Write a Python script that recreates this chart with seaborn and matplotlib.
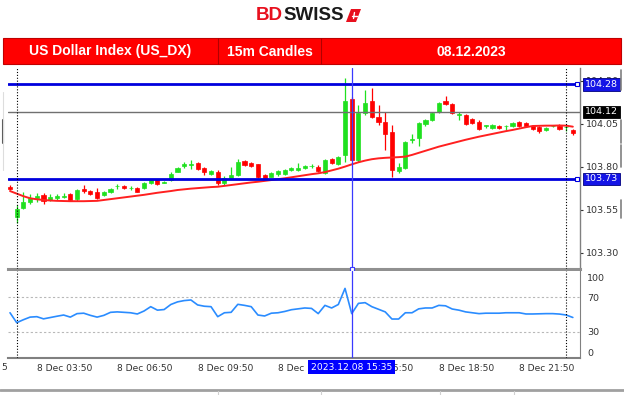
import numpy as np
import pandas as pd
import matplotlib
matplotlib.use("Agg")
import matplotlib.pyplot as plt
import matplotlib.transforms as mtransforms
from matplotlib.patches import Rectangle, Polygon
from matplotlib.lines import Line2D
import seaborn as sns

# ---------------- data ----------------
opens = [103.685, 103.511, 103.563, 103.594, 103.618, 103.637, 103.608, 103.618, 103.625, 103.641,
         103.612, 103.672, 103.660, 103.654, 103.637, 103.656, 103.688, 103.691, 103.678, 103.680,
         103.676, 103.705, 103.722, 103.707, 103.724, 103.773, 103.807, 103.814, 103.825, 103.796,
         103.759, 103.773, 103.705, 103.738, 103.753, 103.835, 103.825, 103.817, 103.753, 103.744,
         103.757, 103.757, 103.782, 103.782, 103.792, 103.805, 103.802, 103.763, 103.844, 103.815,
         103.870, 104.195, 103.840, 104.112, 104.183, 104.092, 104.059, 104.005, 103.777, 103.796,
         103.957, 103.966, 104.048, 104.073, 104.121, 104.183, 104.164, 104.104, 104.102, 104.077,
         104.063, 104.040, 104.025, 104.040, 104.036, 104.040, 104.059, 104.054, 104.038, 104.034,
         104.015, 104.036, 104.040, 104.032, 104.015]
highs = [103.695, 103.579, 103.656, 103.641, 103.647, 103.647, 103.640, 103.645, 103.647, 103.650,
         103.670, 103.695, 103.668, 103.680, 103.662, 103.678, 103.699, 103.695, 103.690, 103.685,
         103.712, 103.732, 103.728, 103.720, 103.770, 103.800, 103.831, 103.840, 103.830, 103.800,
         103.780, 103.780, 103.745, 103.802, 103.846, 103.840, 103.830, 103.820, 103.760, 103.770,
         103.780, 103.790, 103.800, 103.821, 103.812, 103.815, 103.810, 103.845, 103.850, 103.865,
         104.319, 104.209, 104.160, 104.247, 104.261, 104.160, 104.121, 104.044, 103.821, 103.950,
         103.990, 104.063, 104.080, 104.120, 104.180, 104.214, 104.170, 104.121, 104.108, 104.082,
         104.070, 104.044, 104.050, 104.045, 104.044, 104.060, 104.065, 104.060, 104.045, 104.040,
         104.035, 104.045, 104.048, 104.036, 104.020]
lows = [103.665, 103.472, 103.556, 103.583, 103.598, 103.583, 103.600, 103.610, 103.620, 103.600,
        103.605, 103.647, 103.635, 103.615, 103.632, 103.650, 103.672, 103.672, 103.666, 103.652,
        103.672, 103.700, 103.698, 103.705, 103.720, 103.770, 103.792, 103.788, 103.780, 103.753,
        103.755, 103.698, 103.698, 103.735, 103.750, 103.805, 103.800, 103.735, 103.728, 103.740,
        103.750, 103.752, 103.778, 103.778, 103.788, 103.795, 103.770, 103.758, 103.820, 103.810,
        103.831, 103.835, 103.830, 104.100, 104.085, 104.044, 103.899, 103.744, 103.763, 103.790,
        103.937, 103.924, 104.040, 104.068, 104.115, 104.160, 104.105, 104.073, 104.042, 104.050,
        104.015, 104.025, 104.020, 104.020, 104.015, 104.035, 104.035, 104.035, 104.015, 104.000,
        104.010, 104.030, 104.015, 104.010, 103.985]
closes = [103.672, 103.556, 103.598, 103.621, 103.631, 103.602, 103.623, 103.633, 103.630, 103.608,
          103.664, 103.660, 103.641, 103.621, 103.656, 103.672, 103.690, 103.676, 103.680, 103.656,
          103.705, 103.726, 103.703, 103.710, 103.757, 103.796, 103.815, 103.816, 103.786, 103.769,
          103.777, 103.705, 103.738, 103.753, 103.831, 103.811, 103.806, 103.744, 103.734, 103.763,
          103.777, 103.782, 103.796, 103.796, 103.806, 103.807, 103.777, 103.840, 103.825, 103.860,
          104.183, 103.840, 104.112, 104.170, 104.092, 104.059, 103.990, 103.782, 103.802, 103.943,
          103.963, 104.054, 104.073, 104.112, 104.170, 104.164, 104.112, 104.106, 104.048, 104.054,
          104.021, 104.042, 104.044, 104.025, 104.038, 104.054, 104.040, 104.040, 104.021, 104.009,
          104.028, 104.038, 104.021, 104.034, 103.995]
ma = [103.660, 103.645, 103.630, 103.618, 103.612, 103.608, 103.605, 103.603, 103.602, 103.601,
      103.601, 103.601, 103.602, 103.603, 103.608, 103.613, 103.618, 103.623, 103.628, 103.633,
      103.638, 103.644, 103.650, 103.655, 103.660, 103.666, 103.670, 103.674, 103.677, 103.680,
      103.683, 103.685, 103.690, 103.695, 103.700, 103.705, 103.710, 103.714, 103.719, 103.724,
      103.729, 103.734, 103.740, 103.746, 103.752, 103.758, 103.763, 103.770, 103.780, 103.790,
      103.802, 103.815, 103.827, 103.837, 103.845, 103.850, 103.853, 103.855, 103.857, 103.860,
      103.870, 103.882, 103.894, 103.906, 103.918, 103.928, 103.938, 103.948, 103.958, 103.967,
      103.976, 103.984, 103.992, 104.000, 104.008, 104.015, 104.023, 104.031, 104.038, 104.039,
      104.040, 104.040, 104.041, 104.040, 104.034]
rsi = [52.0, 40.6, 44.0, 47.0, 47.5, 45.0, 46.5, 48.0, 49.4, 47.0,
       51.0, 51.5, 49.0, 47.0, 49.0, 52.5, 53.0, 52.5, 52.0, 50.6,
       54.0, 59.0, 55.0, 55.7, 61.5, 64.5, 66.0, 66.7, 61.0, 59.5,
       59.0, 47.5, 52.0, 52.5, 61.7, 60.5, 59.0, 49.4, 48.3, 51.5,
       52.0, 53.5, 55.5, 56.5, 57.5, 57.0, 51.0, 60.5, 57.5, 61.5,
       80.0, 51.0, 62.8, 63.6, 59.0, 56.0, 53.0, 44.8, 44.8, 52.0,
       52.0, 56.5, 57.5, 57.5, 60.5, 60.0, 56.3, 55.0, 53.0, 52.0,
       51.0, 51.5, 51.5, 51.5, 52.0, 52.0, 52.0, 50.6, 50.6, 50.8,
       51.0, 51.0, 50.5, 49.4, 46.6]

level_lines = [104.28, 103.73]
ref_line = 104.12
price_ticks = [103.30, 103.55, 103.80, 104.05, 104.30]
time_tick_idx = [4, 16, 28, 40, 52, 64, 76]
time_tick_labels = ["8 Dec 03:50", "8 Dec 06:50", "8 Dec 09:50", "8 Dec 12:50",
                    "8 Dec 15:50", "8 Dec 18:50", "8 Dec 21:50"]
cursor_idx = 51
cursor_label = "2023.12.08 15:35"
separator_idx = [1, 83]
header_texts = ["US Dollar Index (US_DX)", "15m Candles", "08.12.2023"]

# ---------------- styling ----------------
sns.set_style("white")
plt.rcParams["font.family"] = ["DejaVu Sans"]

GREEN = "#1fe01f"
RED = "#ff0000"
BLUE = "#0000dd"
W, H = 624, 395


def fx(x):
    return x / W


def fy(y):
    return 1 - y / H


fig = plt.figure(figsize=(W / 100, H / 100), dpi=100)
fig.patch.set_facecolor("white")

ax = fig.add_axes([fx(8), fy(269), 572 / W, 201 / H])
ax2 = fig.add_axes([fx(8), fy(358), 572 / W, 87 / H], sharex=ax)

df = pd.DataFrame({"i": np.arange(len(opens)), "open": opens, "high": highs,
                   "low": lows, "close": closes, "ma": ma, "rsi": rsi})
up = df["close"] >= df["open"]
cols = np.where(up, GREEN, RED)

# candles
ax.vlines(df["i"], df["low"], df["high"], colors=cols, lw=0.9, zorder=3)
ax.bar(df["i"], df["close"] - df["open"], bottom=df["open"], width=0.62,
       color=cols, edgecolor=cols, linewidth=0.5, zorder=4)
sns.lineplot(data=df, x="i", y="ma", ax=ax, color="#ff2020", lw=1.4, zorder=5)

# level lines
for lv in level_lines:
    ax.axhline(lv, color=BLUE, lw=2.0, zorder=6)
ax.axhline(ref_line, color="#707070", lw=1.0, zorder=6)

ax.set_xlim(-0.3, 85.07)
ax.set_ylim(103.207, 104.375)
ax.set_xlabel("")
ax.set_ylabel("")
ax.yaxis.tick_right()
ax.set_yticks(price_ticks)
ax.set_yticklabels([f"{v:.2f}" for v in price_ticks])
ax.tick_params(axis="y", length=2, pad=2, labelsize=6.8, colors="#333333", width=0.8)
ax.tick_params(axis="x", bottom=False, labelbottom=False)
for s in ["top", "left"]:
    ax.spines[s].set_visible(False)
ax.spines["right"].set_color("#808080")
ax.spines["right"].set_linewidth(1.0)
ax.spines["bottom"].set_color("#909090")
ax.spines["bottom"].set_linewidth(2.2)

# right-side price boxes
tr = mtransforms.blended_transform_factory(ax.transAxes, ax.transData)
for lv in level_lines:
    ax.text(1 + 5 / 572, lv, f"{lv:.2f}", transform=tr, ha="left", va="center",
            fontsize=6.8, color="white", zorder=20, clip_on=False,
            bbox=dict(boxstyle="square,pad=0.18", fc="#1414e6", ec="#000080", lw=0.6))
    ax.plot([84.6], [lv], marker="s", ms=3, mfc="white", mec=BLUE, mew=0.8,
            clip_on=False, zorder=21)
ax.text(1 + 5 / 572, ref_line, f"{ref_line:.2f}", transform=tr, ha="left", va="center",
        fontsize=6.8, color="white", zorder=20, clip_on=False,
        bbox=dict(boxstyle="square,pad=0.18", fc="black", ec="black", lw=0.6))

# RSI panel
sns.lineplot(data=df, x="i", y="rsi", ax=ax2, color="#2a8cff", lw=1.2, zorder=5)
ax2.axhline(70, color="#b8b8b8", lw=0.8, ls=(0, (2, 2)))
ax2.axhline(30, color="#b8b8b8", lw=0.8, ls=(0, (2, 2)))
ax2.set_ylim(0, 100)
ax2.set_xlabel("")
ax2.set_ylabel("")
ax2.yaxis.tick_right()
ax2.set_yticks([92.5, 70, 30, 6])
ax2.set_yticklabels(["100", "70", "30", "0"])
ax2.tick_params(axis="y", length=0, pad=5, labelsize=6.8, colors="#333333")
ax2.set_xticks(time_tick_idx)
ax2.set_xticklabels(time_tick_labels)
ax2.tick_params(axis="x", length=2, pad=2, labelsize=6.6, colors="#333333", width=0.8)
for lbl in ax2.get_xticklabels():
    lbl.set_ha("left")
for s in ["top", "left"]:
    ax2.spines[s].set_visible(False)
ax2.spines["right"].set_color("#808080")
ax2.spines["bottom"].set_color("#808080")
ax2.spines["bottom"].set_linewidth(1.5)
ax2.set_xlim(-0.3, 85.07)

# vertical lines: session separators and cursor
for a in (ax, ax2):
    for si in separator_idx:
        a.axvline(si, color="black", lw=0.8, ls=(0, (1, 1.6)), zorder=7)
    a.axvline(cursor_idx, color="#3a3aff", lw=0.9, zorder=8)
ax.plot([cursor_idx], [103.207], marker="s", ms=3, mfc="white", mec="#3a3aff",
        mew=0.8, clip_on=False, zorder=21)

# cursor time label and clipped left label
ctr = mtransforms.blended_transform_factory(ax2.transData, fig.transFigure)
fig.text(cursor_idx, fy(367), cursor_label, transform=ctr, ha="center", va="center",
         fontsize=6.6, color="white", zorder=10,
         bbox=dict(boxstyle="square,pad=0.3", fc="#0000ff", ec="none"))
fig.text(fx(1), fy(367), "5", ha="left", va="center", fontsize=6.6, color="#333333")

# ---------------- header ----------------
fig.patches.append(Rectangle((fx(3), fy(64)), 618 / W, 26 / H, transform=fig.transFigure,
                             fc="#ff0000", ec="#c00000", lw=0.8, zorder=1))
for xd in (218, 321):
    fig.lines.append(Line2D([fx(xd), fx(xd)], [fy(64), fy(38)], transform=fig.transFigure,
                            color="#b00000", lw=0.8, zorder=2))
for xc, t in zip((110.5, 269.5, 471), header_texts):
    fig.text(fx(xc), fy(51.5), t, ha="center", va="center", color="white",
             fontsize=10, fontweight="bold", family=["Liberation Sans", "DejaVu Sans"], zorder=3)

# logo
fig.text(fx(256), fy(16), "BD", ha="left", va="center", color="#e8101e", fontsize=13.5,
         fontweight="bold", family=["Liberation Sans", "DejaVu Sans"])
fig.text(fx(283), fy(16), "SWISS", ha="left", va="center", color="#1a1a1a", fontsize=13.5,
         fontweight="bold", family=["Liberation Sans", "DejaVu Sans"])
flag = [(346, 22), (351, 9), (361, 9), (356, 22)]
fig.patches.append(Polygon([(fx(a), fy(b)) for a, b in flag], closed=True,
                           transform=fig.transFigure, fc="#e8101e", ec="none"))
fig.lines.append(Line2D([fx(351.5), fx(356.5)], [fy(15.5), fy(15.5)], transform=fig.transFigure,
                        color="white", lw=1.0))
fig.lines.append(Line2D([fx(354.5), fx(353.5)], [fy(12.5), fy(18.5)], transform=fig.transFigure,
                        color="white", lw=1.0))

# page frame fragments
fig.lines.append(Line2D([0, 1], [fy(390), fy(390)], transform=fig.transFigure,
                        color="#a0a0a0", lw=2.0))
for xd in (218, 321, 440, 514):
    fig.lines.append(Line2D([fx(xd), fx(xd)], [fy(391), fy(395)], transform=fig.transFigure,
                            color="#d0d0d0", lw=0.8))
fig.lines.append(Line2D([fx(3), fx(3)], [fy(120), fy(143)], transform=fig.transFigure,
                        color="#555555", lw=1.5))
fig.lines.append(Line2D([fx(3), fx(3)], [fy(92), fy(170)], transform=fig.transFigure,
                        color="#dddddd", lw=0.8))
for y0, y1 in ((70, 90), (120, 143), (145, 167), (200, 218)):
    fig.lines.append(Line2D([fx(621), fx(621)], [fy(y0), fy(y1)], transform=fig.transFigure,
                            color="#808080", lw=1.2))

fig.savefig("out.png", dpi=100)
